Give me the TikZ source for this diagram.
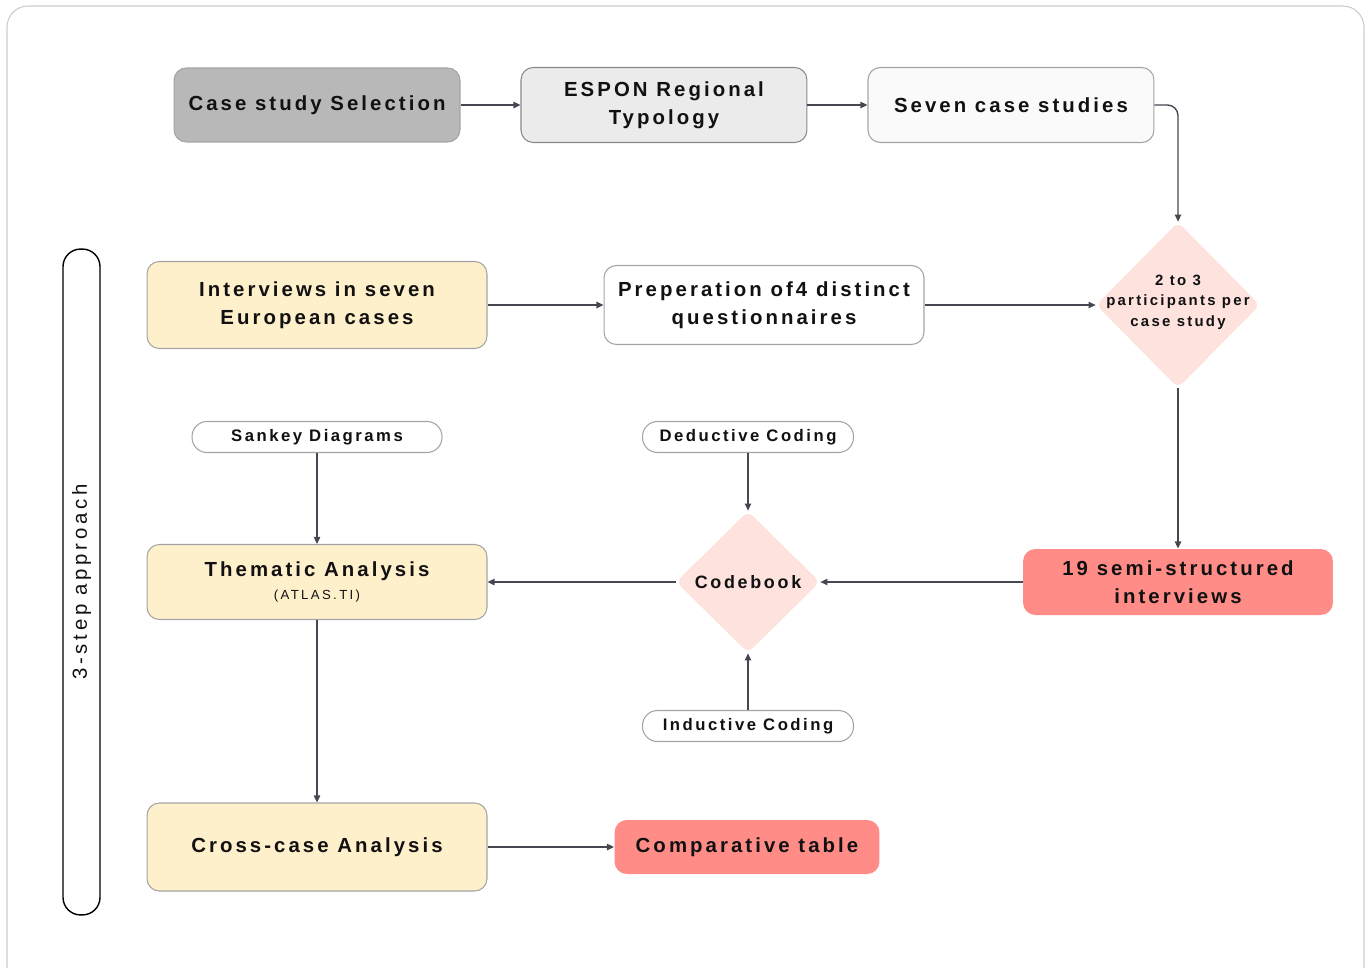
\documentclass[tikz,border=0pt]{standalone}
\usepackage{fontspec}
\setmainfont{Liberation Sans}
\newfontfamily\boxfont[LetterSpace=15]{Liberation Sans}
\newfontfamily\thinfont[LetterSpace=18]{Liberation Sans}
\usepackage{tikz}
\usetikzlibrary{positioning, arrows.meta, shapes.geometric}
\definecolor{caseGray}{HTML}{B8B8B8}
\definecolor{esponGray}{HTML}{EBEBEB}
\definecolor{sevenGray}{HTML}{FAFAFA}
\definecolor{cream}{HTML}{FFF0CC}
\definecolor{diaPink}{HTML}{FDE2DD}
\definecolor{salmon}{HTML}{FF8C87}
\definecolor{arrcol}{HTML}{474752}
\definecolor{edgecol}{HTML}{A4A4A4}
\definecolor{framecol}{HTML}{CCCCCC}
\definecolor{inkcol}{HTML}{111111}
\newcommand\bigfont{\boxfont\bfseries\fontsize{11.6}{16}\selectfont}
\newcommand\pillfont{\boxfont\bfseries\fontsize{9.5}{11}\selectfont}
\newcommand\diafont{\boxfont\bfseries\fontsize{8.5}{11.6}\selectfont}
\newcommand\atlasfont{\thinfont\mdseries\fontsize{7.5}{9}\selectfont}

\begin{document}
\begin{tikzpicture}[
  x=0.02cm, y=-0.02cm,
  stepbox/.style={draw=edgecol, line width=0.6pt, rounded corners=7pt, fill=#1,
    font=\bigfont, text=inkcol, align=center, inner sep=0pt},
  pill/.style={draw=edgecol, line width=0.6pt, rounded corners=8.5pt, fill=white,
    minimum width=4.22cm, minimum height=0.62cm, font=\pillfont, text=inkcol, inner sep=0pt},
  decision/.style={diamond, fill=diaPink, rounded corners=4pt, inner sep=0pt},
  arr/.style={-{Triangle[length=4pt, width=3.6pt]}, line width=0.8pt, draw=arrcol},
]
  \useasboundingbox (0,0) rectangle (1368,967);
  \begin{scope}
    \clip (0,0) rectangle (1368,967);
    \draw[framecol, line width=0.6pt, rounded corners=12pt] (7,6) rectangle (1364,1010);
  \end{scope}

  % case study row
  \node[stepbox=caseGray, minimum width=5.72cm, minimum height=1.48cm] (select) at (317,105) {Case study Selection};
  \node[stepbox=esponGray, draw=edgecol!130, minimum width=5.72cm, minimum height=1.5cm, right=1.2cm of select] (espon) {ESPON Regional\\Typology};
  \node[stepbox=sevenGray, minimum width=5.72cm, minimum height=1.5cm, right=1.2cm of espon] (seven) {Seven case studies};

  % interviews row
  \node[stepbox=cream, minimum width=6.8cm, minimum height=1.74cm] (interv) at (317,305) {Interviews in seven\\European cases};
  \node[stepbox=white, minimum width=6.4cm, minimum height=1.58cm] (prep) at (764,305) {Preperation of4 distinct\\questionnaires};
  \node[decision, minimum width=3.28cm, minimum height=3.32cm] (part) at (1178,305) {};
  \node[font=\diafont, text=inkcol, align=center] (parttext) at (1178,302) {2 to 3\\participants per\\case study};

  % coding
  \node[pill, minimum width=5cm] (sankey) at (317,437) {Sankey Diagrams};
  \node[pill] (deduct) at (748,437) {Deductive Coding};
  \node[pill] (induct) at (748,726) {Inductive Coding};
  \node[decision, minimum width=2.88cm, minimum height=2.84cm] (codebook) at (748,582) {};
  \node[font=\boxfont\bfseries\fontsize{10.2}{12}\selectfont, text=inkcol] (codetext) at (748,582) {Codebook};
  \node[stepbox=cream, minimum width=6.8cm, minimum height=1.5cm] (thematic) at (317,582) {Thematic Analysis\\[-3pt]{\atlasfont (ATLAS.TI)}};
  \node[stepbox=salmon, draw=none, minimum width=6.2cm, minimum height=1.32cm] (semi) at (1178,582) {19 semi-structured\\interviews};

  % results
  \node[stepbox=cream, minimum width=6.8cm, minimum height=1.76cm] (cross) at (317,847) {Cross-case Analysis};
  \node[stepbox=salmon, draw=none, minimum width=5.3cm, minimum height=1.08cm] (compar) at (747,847) {Comparative table};

  % side bar
  \node[draw=black, line width=0.8pt, rounded corners=10pt, rotate=90, minimum width=13.32cm, minimum height=0.74cm,
    font=\thinfont\fontsize{11.6}{13}\selectfont, text=inkcol] (approach) at (81.5,582) {3-step approach};

  \draw[arr] (select) -- (espon);
  \draw[arr] (espon) -- (seven);
  \draw[arr, rounded corners=6pt] (seven.east) -| (part.north);
  \draw[arr] (interv) -- (prep);
  \draw[arr] (prep) -- (part);
  \draw[arr] (part) -- (semi);
  \draw[arr] (semi) -- (codebook);
  \draw[arr] (codebook) -- (thematic);
  \draw[arr] (deduct) -- (codebook);
  \draw[arr] (induct) -- (codebook);
  \draw[arr] (sankey) -- (thematic);
  \draw[arr] (thematic) -- (cross);
  \draw[arr] (cross) -- (compar);
\end{tikzpicture}
\end{document}
